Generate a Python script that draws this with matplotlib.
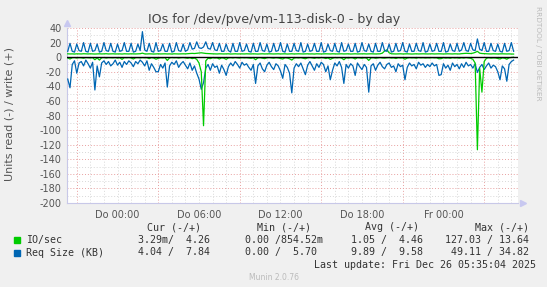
import matplotlib
matplotlib.use('Agg')
import matplotlib.pyplot as plt
from matplotlib.patches import Rectangle
import numpy as np
import pandas as pd

# 10 minute samples, Wed 24.12. 20:20 .. Fri 26.12. 05:10
times = pd.date_range('2025-12-24 20:20', periods=198, freq='10min')

# Req Size (KB) write (+)
size_write = [
    8, 19, 8, 7, 18, 9, 8, 20, 8, 7, 19, 8, 9, 18, 7, 8, 20, 9, 8, 19,
    8, 7, 18, 8, 9, 20, 8, 8, 19, 7, 8, 18, 9, 35, 10, 8, 19, 8, 7, 20,
    8, 9, 18, 8, 8, 19, 7, 8, 20, 9, 8, 18, 8, 10, 20, 11, 12, 21, 13, 12,
    14, 21, 12, 11, 20, 10, 9, 19, 8, 8, 18, 9, 7, 19, 8, 8, 20, 8, 9, 18,
    8, 7, 19, 8, 8, 20, 9, 8, 18, 7, 8, 19, 8, 9, 20, 8, 7, 18, 8, 8,
    19, 9, 8, 20, 7, 8, 18, 8, 9, 19, 8, 8, 20, 7, 8, 18, 9, 8, 19, 8,
    7, 20, 8, 9, 18, 8, 8, 19, 7, 8, 20, 9, 8, 18, 8, 7, 19, 8, 8, 20,
    9, 8, 18, 7, 8, 19, 8, 9, 20, 8, 7, 18, 8, 8, 19, 9, 8, 20, 7, 8,
    18, 8, 9, 19, 8, 8, 20, 7, 8, 18, 9, 8, 19, 8, 10, 20, 9, 8, 19, 10,
    9, 25, 11, 9, 20, 8, 8, 19, 9, 8, 18, 8, 7, 19, 8, 9, 20, 8]

# Req Size (KB) read (-)
size_read = [
    30, 42, 10, 5, 22, 8, 6, 12, 4, 9, 15, 7, 45, 12, 27, 8, 5, 10, 6, 12,
    9, 4, 11, 7, 14, 6, 10, 5, 8, 13, 6, 9, 4, 7, 12, 5, 18, 9, 14, 20,
    20, 10, 15, 8, 41, 12, 7, 10, 5, 14, 9, 6, 11, 16, 8, 18, 12, 22, 30, 44,
    35, 15, 10, 18, 9, 14, 12, 22, 11, 17, 25, 13, 8, 12, 6, 10, 15, 7, 11, 9,
    14, 18, 10, 36, 12, 8, 16, 20, 11, 7, 13, 17, 9, 12, 19, 29, 10, 14, 22, 49,
    15, 9, 13, 8, 16, 24, 11, 6, 12, 18, 9, 14, 7, 10, 20, 12, 31, 18, 8, 12,
    6, 14, 36, 10, 15, 9, 12, 25, 8, 13, 17, 10, 14, 48, 12, 9, 18, 11, 7, 13,
    16, 10, 8, 14, 12, 20, 9, 13, 11, 31, 14, 8, 12, 10, 16, 7, 11, 9, 14, 10,
    13, 8, 12, 10, 25, 24, 9, 15, 11, 18, 8, 13, 10, 16, 9, 14, 7, 12, 10, 15,
    9, 21, 14, 10, 17, 12, 8, 15, 11, 13, 20, 31, 12, 16, 33, 10, 6, 4]

# IO/sec write (+)
io_write = [
    4.6, 4.4, 4.5, 4.3, 4.6, 4.5, 4.4, 4.7, 4.5, 4.4, 4.6, 4.5, 4.3, 4.5, 4.6, 4.4, 4.5, 4.7, 4.4, 4.5,
    4.6, 4.4, 4.5, 4.5, 4.3, 4.6, 4.5, 4.4, 4.6, 4.5, 4.4, 4.5, 4.7, 5.5, 4.5, 4.4, 4.6, 4.5, 4.3, 4.5,
    4.6, 4.4, 4.5, 4.6, 4.4, 4.5, 4.3, 4.6, 4.5, 4.4, 4.5, 4.6, 4.5, 4.8, 5.0, 5.2, 5.0, 5.3, 5.6, 6.0,
    5.5, 5.1, 4.9, 4.7, 4.6, 4.5, 4.4, 4.6, 4.5, 4.4, 4.5, 4.6, 4.3, 4.5, 4.6, 4.4, 4.5, 4.5, 4.4, 4.6,
    4.5, 4.4, 4.6, 4.5, 4.3, 4.5, 4.6, 4.4, 4.5, 4.6, 4.5, 4.4, 4.5, 4.6, 4.4, 4.5, 4.6, 4.3, 4.5, 4.6,
    4.4, 4.5, 4.6, 4.5, 4.4, 4.5, 4.6, 4.4, 4.5, 4.3, 4.6, 4.5, 4.4, 4.5, 4.6, 4.5, 4.4, 4.6, 4.5, 4.4,
    4.5, 4.6, 4.4, 4.5, 4.6, 4.3, 4.5, 4.6, 4.4, 4.5, 4.5, 4.6, 4.4, 4.5, 4.6, 4.5, 4.4, 4.5, 4.6, 5.5,
    8.5, 10.0, 6.0, 4.6, 4.5, 4.4, 4.5, 4.6, 4.4, 4.5, 4.6, 4.5, 4.3, 4.5, 4.6, 4.4, 4.5, 4.6, 4.5, 4.4,
    4.5, 4.6, 4.4, 4.5, 4.6, 4.5, 4.4, 4.5, 4.6, 4.5, 4.4, 4.6, 4.5, 4.4, 4.8, 5.0, 5.3, 5.2, 5.0, 5.5,
    6.5, 8.0, 5.5, 5.0, 4.8, 4.6, 4.5, 4.4, 4.6, 4.5, 4.4, 4.5, 4.6, 4.5, 4.4, 4.5, 4.3, 4.26]

# IO/sec read (-)
io_read = [
    1.0, 2.5, 0.8, 0.6, 1.2, 0.7, 0.9, 1.5, 0.6, 0.8, 1.1, 0.7, 3.5, 1.0, 4.0, 0.8, 0.6, 1.2, 0.7, 0.9,
    1.0, 0.6, 1.3, 0.8, 3.0, 0.7, 0.9, 0.6, 1.1, 2.5, 0.8, 0.7, 1.0, 0.6, 0.9, 0.8, 2.0, 0.7, 1.2, 2.8,
    1.5, 0.8, 1.0, 0.7, 4.5, 1.0, 0.6, 0.9, 0.7, 1.2, 0.8, 0.6, 1.0, 1.5, 0.8, 2.0, 1.2, 3.0, 8.0, 20.0,
    94.0, 5.0, 1.5, 2.0, 0.8, 1.2, 1.0, 2.5, 0.9, 1.4, 3.0, 1.0, 0.7, 1.1, 0.6, 0.9, 1.3, 0.7, 1.0, 0.8,
    1.2, 1.5, 0.9, 3.5, 1.0, 0.7, 1.3, 2.0, 0.9, 0.6, 1.0, 1.4, 0.8, 1.1, 1.8, 2.5, 0.9, 1.2, 2.2, 4.0,
    1.3, 0.8, 1.1, 0.7, 1.4, 2.2, 0.9, 0.6, 1.0, 1.6, 0.8, 1.2, 0.7, 0.9, 1.8, 1.0, 3.0, 1.5, 0.7, 1.0,
    0.6, 1.2, 3.5, 0.9, 1.3, 0.8, 1.0, 2.5, 0.7, 1.1, 1.4, 0.9, 1.2, 4.5, 1.0, 0.8, 1.5, 1.0, 0.6, 1.1,
    1.3, 0.9, 0.7, 1.2, 1.0, 1.8, 0.8, 1.1, 0.9, 2.8, 1.2, 0.7, 1.0, 0.9, 1.4, 0.6, 1.0, 0.8, 1.2, 0.9,
    1.1, 0.7, 1.0, 0.9, 2.2, 2.0, 0.8, 1.3, 1.0, 1.5, 0.7, 1.1, 0.9, 1.4, 0.8, 1.2, 0.6, 1.0, 1.5, 3.0,
    8.0, 127.0, 15.0, 48.0, 6.0, 1.5, 0.8, 1.3, 1.0, 1.1, 1.8, 2.5, 1.0, 1.4, 2.8, 0.9, 0.5, 0.003]

tick_hours = [0, 6, 12, 18, 24]
tick_labels = ['Do 00:00', 'Do 06:00', 'Do 12:00', 'Do 18:00', 'Fr 00:00']
yticks = list(range(40, -201, -20))

legend_names = ['IO/sec', 'Req Size (KB)']
legend_cur = ['3.29m/  4.26', '4.04 /  7.84']
legend_min = ['0.00 /854.52m', '0.00 /  5.70']
legend_avg = ['1.05 /  4.46', '9.89 /  9.58']
legend_max = ['127.03 / 13.64', ' 49.11 / 34.82']

GREEN = '#00CC00'
BLUE = '#0066B3'
W, H = 547, 287

hours = (times - pd.Timestamp('2025-12-25')) / pd.Timedelta('1h')


def px(x, y):
    return x / W, 1 - y / H


fig = plt.figure(figsize=(W / 100, H / 100), dpi=100, facecolor='#F0F0F0')
ax = fig.add_axes([67 / W, (H - 203) / H, 451 / W, 175 / H])
ax.set_facecolor('white')
ax.set_xlim(-3.72, 29.49)
ax.set_ylim(-200, 40)

# grid: minor gray, major red
for h in range(-3, 30):
    major = (h + 3) % 6 == 0
    ax.axvline(h, color='#E8A0A0' if major else '#D8D8D8', lw=0.7,
               ls=(0, (1, 2)), zorder=1)
for v in range(-200, 41, 10):
    ax.axhline(v, color='#E8A0A0' if v % 20 == 0 else '#D8D8D8', lw=0.7,
               ls=(0, (1, 2)), zorder=1)

ax.plot(hours, -np.array(size_read), color=BLUE, lw=0.9, zorder=3)
ax.plot(hours, -np.array(io_read), color=GREEN, lw=0.9, zorder=4)
ax.plot(hours, io_write, color=GREEN, lw=0.9, zorder=4)
ax.plot(hours, size_write, color=BLUE, lw=0.9, zorder=5)
ax.axhline(0, color='black', lw=1.0, zorder=6)

for s in ['top', 'right']:
    ax.spines[s].set_visible(False)
for s in ['left', 'bottom']:
    ax.spines[s].set_color('#C8C8E8')
    ax.spines[s].set_linewidth(0.8)
ax.plot([0], [1.03], marker='^', color='#C8C8F0', ms=4, transform=ax.transAxes, clip_on=False)
ax.plot([1.01], [0], marker='>', color='#C8C8F0', ms=4, transform=ax.transAxes, clip_on=False)

ax.set_xticks(tick_hours)
ax.set_xticklabels(tick_labels)
ax.set_yticks(yticks)
ax.set_yticklabels([str(v) for v in yticks])
ax.tick_params(axis='both', length=0, labelsize=7, colors='#555555', pad=4)
ax.tick_params(axis='x', pad=5)

fig.text(*px(274, 19), 'IOs for /dev/pve/vm-113-disk-0 - by day', ha='center',
         va='center', fontsize=9.1, color='#444444')
fig.text(*px(10, 114), 'Units read (-) / write (+)', rotation=90, ha='center',
         va='center', fontsize=8, color='#555555')
fig.text(*px(538, 53), 'RRDTOOL / TOBI OETIKER', rotation=270, ha='center',
         va='center', fontsize=5.3, color='#BBBBBB')

mono = dict(family='DejaVu Sans Mono', fontsize=7.2, color='#333333', va='center')
for x, head in zip([147, 257, 365, 475], ['Cur (-/+)', 'Min (-/+)', 'Avg (-/+)', 'Max (-/+)']):
    fig.text(*px(x, 227), head, ha='left', **mono)
for i, (name, col) in enumerate(zip(legend_names, [GREEN, BLUE])):
    y = 240 + i * 12.5
    fig.add_artist(Rectangle(px(14, y + 3), 6 / W, 6 / H, color=col,
                             transform=fig.transFigure))
    fig.text(*px(26, y), name, ha='left', **mono)
    fig.text(*px(138, y), legend_cur[i], ha='left', **mono)
    fig.text(*px(245, y), legend_min[i], ha='left', **mono)
    fig.text(*px(351, y), legend_avg[i], ha='left', **mono)
    fig.text(*px(445, y), legend_max[i], ha='left', **mono)
fig.text(*px(536, 265), 'Last update: Fri Dec 26 05:35:04 2025', ha='right', **mono)
fig.text(*px(274, 277), 'Munin 2.0.76', ha='center', va='center', fontsize=5.5,
         color='#BBBBBB')

fig.savefig('out.png', dpi=100, facecolor=fig.get_facecolor())
